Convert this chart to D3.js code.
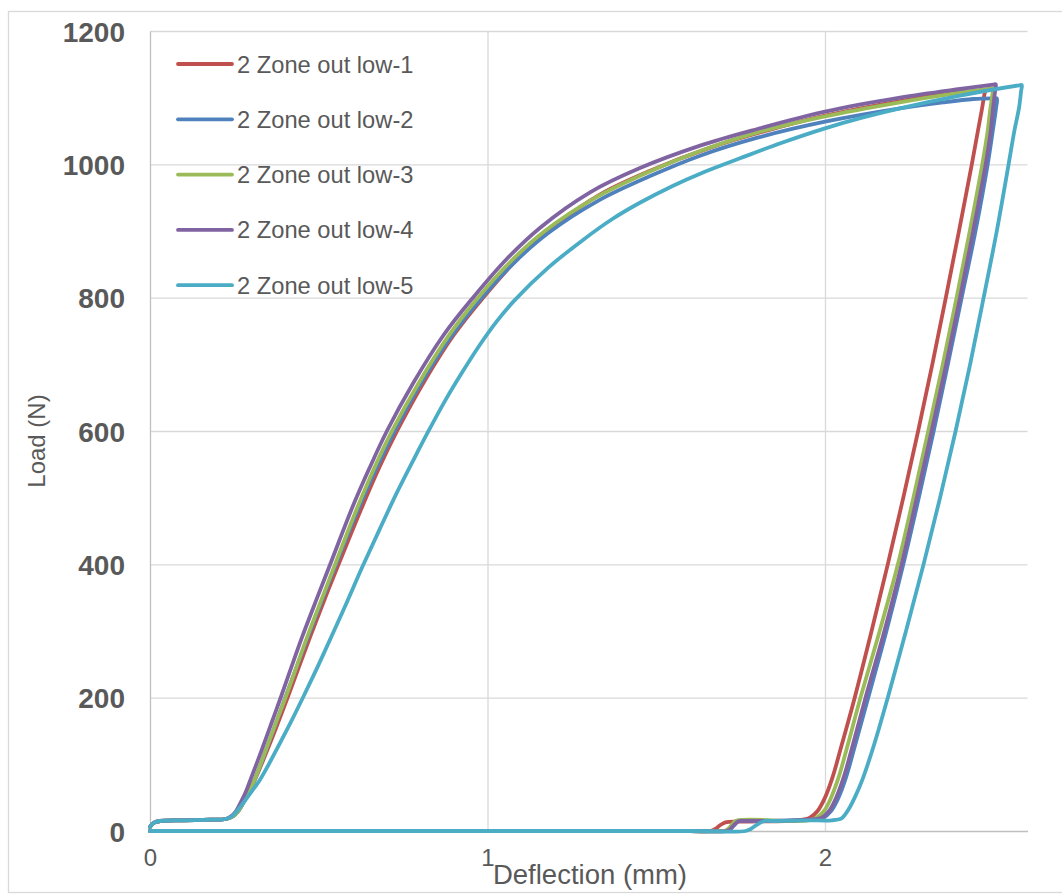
<!DOCTYPE html>
<html>
<head>
<meta charset="utf-8">
<script src="https://cdn.jsdelivr.net/npm/d3@7"></script>
<style>
  html, body { margin: 0; padding: 0; background: #ffffff; }
  svg { display: block; font-family: "Liberation Sans", Arial, sans-serif; }
</style>
</head>
<body>
<svg id="chart" width="1062" height="895"></svg>
<script>
// Load–deflection loops, [deflection (mm), load (N)]: loading, unloading, return at zero load
const low1 = [
  [0,6],[0.01,12],[0.03,15],[0.1,16],[0.18,17],[0.225,18],[0.245,22],[0.26,29],[0.275,41],[0.29,56],
  [0.31,76],[0.34,112],[0.37,150],[0.41,203],[0.475,292],[0.53,364],[0.57,414],[0.63,488],[0.68,546],
  [0.732,600],[0.81,672],[0.90,744],[0.987,800],[1.087,857],[1.186,903],[1.334,955],[1.48,990],
  [1.66,1025],[1.83,1051],[2.0,1073],[2.222,1095],[2.35,1105],[2.45,1110],[2.474,1111],
  [2.472,1104],[2.464,1080],[2.453,1050],[2.435,1000],[2.397,900],[2.358,800],[2.318,700],[2.276,600],
  [2.232,500],[2.186,400],[2.138,300],[2.088,200],[2.050,130],[2.022,80],[2.000,50],[1.978,30],
  [1.955,20],[1.92,16],[1.88,15],[1.75,14],[1.705,13],[1.69,9],[1.675,3],[1.66,0],[1.60,0],[0,0]
];
const low2 = [
  [0,6],[0.01,12],[0.03,15],[0.1,16],[0.18,17],[0.225,18],[0.245,22],[0.26,29],[0.275,41],[0.29,56],
  [0.31,77],[0.34,116],[0.37,157],[0.40,199],[0.465,287],[0.515,353],[0.555,405],[0.615,480],[0.67,543],
  [0.725,600],[0.80,669],[0.89,740],[0.978,797],[1.08,853],[1.18,897],[1.33,946],[1.48,982],[1.63,1013],
  [1.80,1040],[2.0,1064],[2.222,1084],[2.35,1093],[2.44,1098],[2.50,1099],[2.509,1099],
  [2.507,1085],[2.497,1050],[2.482,1000],[2.446,900],[2.405,800],[2.364,700],[2.322,600],[2.278,500],
  [2.232,400],[2.182,300],[2.128,200],[2.090,130],[2.062,80],[2.040,50],[2.018,30],[1.995,20],
  [1.96,17],[1.92,16],[1.80,15],[1.745,15],[1.73,8],[1.718,2],[1.705,0],[1.60,0],[0,0]
];
const low3 = [
  [0,6],[0.01,12],[0.03,15],[0.1,16],[0.18,17],[0.225,18],[0.245,22],[0.26,29],[0.275,41],[0.29,56],
  [0.31,77],[0.34,117],[0.37,158],[0.405,205],[0.465,290],[0.515,356],[0.553,406],[0.615,486],[0.665,545],
  [0.718,601],[0.795,671],[0.885,743],[0.967,797],[1.07,855],[1.17,900],[1.32,950],[1.47,987],[1.63,1020],
  [1.80,1048],[2.0,1072],[2.222,1093],[2.38,1106],[2.49,1113.5],[2.498,1114],
  [2.496,1105],[2.489,1080],[2.482,1050],[2.466,1000],[2.429,900],[2.39,800],[2.349,700],[2.306,600],
  [2.262,500],[2.216,400],[2.162,300],[2.105,200],[2.068,130],[2.040,80],[2.018,50],[1.997,30],
  [1.975,20],[1.95,16],[1.90,15],[1.735,15],[1.722,8],[1.71,2],[1.70,0],[1.60,0],[0,0]
];
const low4 = [
  [0,6],[0.01,12],[0.03,15],[0.1,16],[0.18,17],[0.225,18],[0.24,22],[0.255,30],[0.27,44],[0.285,60],
  [0.30,80],[0.33,120],[0.36,162],[0.39,204],[0.45,290],[0.50,356],[0.54,408],[0.60,486],[0.65,544],
  [0.702,600],[0.78,672],[0.87,744],[0.957,800],[1.057,858],[1.156,905],[1.304,958],[1.45,994],
  [1.63,1028],[1.8,1053],[2.0,1079],[2.222,1100],[2.4,1113],[2.498,1119.5],[2.506,1120],
  [2.504,1110],[2.498,1085],[2.491,1050],[2.476,1000],[2.439,900],[2.40,800],[2.359,700],[2.316,600],
  [2.272,500],[2.227,400],[2.176,300],[2.12,200],[2.083,130],[2.055,80],[2.033,50],[2.012,30],
  [1.99,20],[1.95,17],[1.90,16],[1.76,15],[1.745,15],[1.73,9],[1.718,2],[1.708,0],[1.60,0],[0,0]
];
const low5 = [
  [0,6],[0.01,12],[0.03,15],[0.1,16],[0.18,17],[0.225,18],[0.245,23],[0.267,36],[0.295,55],[0.326,77],
  [0.353,101],[0.38,127],[0.415,161],[0.454,201],[0.50,250],[0.545,300],[0.584,344],[0.63,397],
  [0.68,452],[0.73,506],[0.78,556],[0.821,596],[0.875,646],[0.925,688],[0.973,726],[1.025,763],
  [1.08,796],[1.18,845],[1.284,887],[1.37,918],[1.45,942],[1.55,968],[1.63,986],[1.748,1009],
  [1.87,1032],[2.0,1054],[2.11,1070],[2.222,1084],[2.4,1103],[2.575,1118.5],[2.583,1119],
  [2.581,1110],[2.575,1085],[2.561,1050],[2.544,1000],[2.509,900],[2.470,800],[2.430,700],[2.387,600],
  [2.341,500],[2.292,400],[2.240,300],[2.186,200],[2.147,132],[2.110,76],[2.088,50],[2.074,36],
  [2.060,25],[2.049,19],[2.02,16],[1.95,16],[1.85,15],[1.82,15],[1.80,10],[1.78,3],[1.765,0],[1.60,0],[0,0]
];

const seriesNames = ["2 Zone out low-1", "2 Zone out low-2", "2 Zone out low-3", "2 Zone out low-4", "2 Zone out low-5"];
const seriesData = [low1, low2, low3, low4, low5];
const seriesColors = ["#C0504D", "#4F81BD", "#9BBB59", "#8064A2", "#4BACC6"];

const xTicks = [0, 1, 2];
const yTicks = [0, 200, 400, 600, 800, 1000, 1200];
const xTitle = "Deflection (mm)";
const yTitle = "Load (N)";

// Layout
const plot = { left: 150, right: 1027.5, top: 31, bottom: 831 };
const svg = d3.select("#chart");

// Outer chart frame
svg.append("rect")
  .attr("x", 8.5).attr("y", 11.5)
  .attr("width", 1070).attr("height", 881)
  .attr("fill", "#ffffff").attr("stroke", "#d9d9d9").attr("stroke-width", 1.3);

const x = d3.scaleLinear().domain([0, 2.6]).range([plot.left, plot.right]);
const y = d3.scaleLinear().domain([0, 1200]).range([plot.bottom, plot.top]);

// Horizontal gridlines
svg.append("g")
  .attr("transform", `translate(${plot.left},0)`)
  .call(d3.axisLeft(y).tickValues(yTicks.filter(d => d > 0)).tickSize(-(plot.right - plot.left)).tickFormat(""))
  .call(g => g.select(".domain").remove())
  .call(g => g.selectAll(".tick line").attr("stroke", "#d9d9d9").attr("stroke-width", 1.3));

// Vertical gridlines
svg.append("g")
  .attr("transform", `translate(0,${plot.bottom})`)
  .call(d3.axisBottom(x).tickValues(xTicks.filter(d => d > 0)).tickSize(-(plot.bottom - plot.top)).tickFormat(""))
  .call(g => g.select(".domain").remove())
  .call(g => g.selectAll(".tick line").attr("stroke", "#d9d9d9").attr("stroke-width", 1.3));

// Y axis
svg.append("g")
  .attr("transform", `translate(${plot.left},0)`)
  .call(d3.axisLeft(y).tickValues(yTicks).tickSize(0).tickPadding(25).tickFormat(d3.format("d")))
  .call(g => g.select(".domain").attr("stroke", "#bfbfbf").attr("stroke-width", 1.3))
  .call(g => g.selectAll(".tick text")
    .attr("fill", "#595959").attr("font-size", 28).attr("font-weight", "bold")
    .attr("font-family", "Liberation Sans, Arial, sans-serif").attr("dy", "0.36em"));

// X axis
svg.append("g")
  .attr("transform", `translate(0,${plot.bottom})`)
  .call(d3.axisBottom(x).tickValues(xTicks).tickSize(0).tickPadding(18).tickFormat(d3.format("d")))
  .call(g => g.select(".domain").attr("stroke", "#bfbfbf").attr("stroke-width", 1.5))
  .call(g => g.selectAll(".tick text")
    .attr("fill", "#595959").attr("font-size", 24)
    .attr("font-family", "Liberation Sans, Arial, sans-serif"));

// Axis titles
svg.append("text")
  .attr("x", 590).attr("y", 884)
  .attr("text-anchor", "middle")
  .attr("fill", "#595959").attr("font-size", 27.5)
  .text(xTitle);

svg.append("text")
  .attr("transform", "translate(45,441) rotate(-90)")
  .attr("text-anchor", "middle")
  .attr("fill", "#595959").attr("font-size", 24)
  .text(yTitle);

// Series
const line = d3.line()
  .x(d => x(d[0]))
  .y(d => y(d[1]))
  .curve(d3.curveCatmullRom.alpha(0.5));

svg.append("g")
  .selectAll("path")
  .data(seriesData)
  .join("path")
  .attr("d", line)
  .attr("fill", "none")
  .attr("stroke", (d, i) => seriesColors[i])
  .attr("stroke-width", 3.8)
  .attr("stroke-linejoin", "round")
  .attr("stroke-linecap", "round");

// Legend
const legend = svg.append("g");
const legendRow = legend.selectAll("g")
  .data(seriesNames)
  .join("g")
  .attr("transform", (d, i) => `translate(178,${64 + i * 55.3})`);

legendRow.append("line")
  .attr("x1", 0).attr("x2", 54)
  .attr("stroke", (d, i) => seriesColors[i])
  .attr("stroke-width", 3.8)
  .attr("stroke-linecap", "round");

legendRow.append("text")
  .attr("x", 59).attr("dy", "0.36em")
  .attr("fill", "#595959").attr("font-size", 23.7)
  .text(d => d);
</script>
</body>
</html>
